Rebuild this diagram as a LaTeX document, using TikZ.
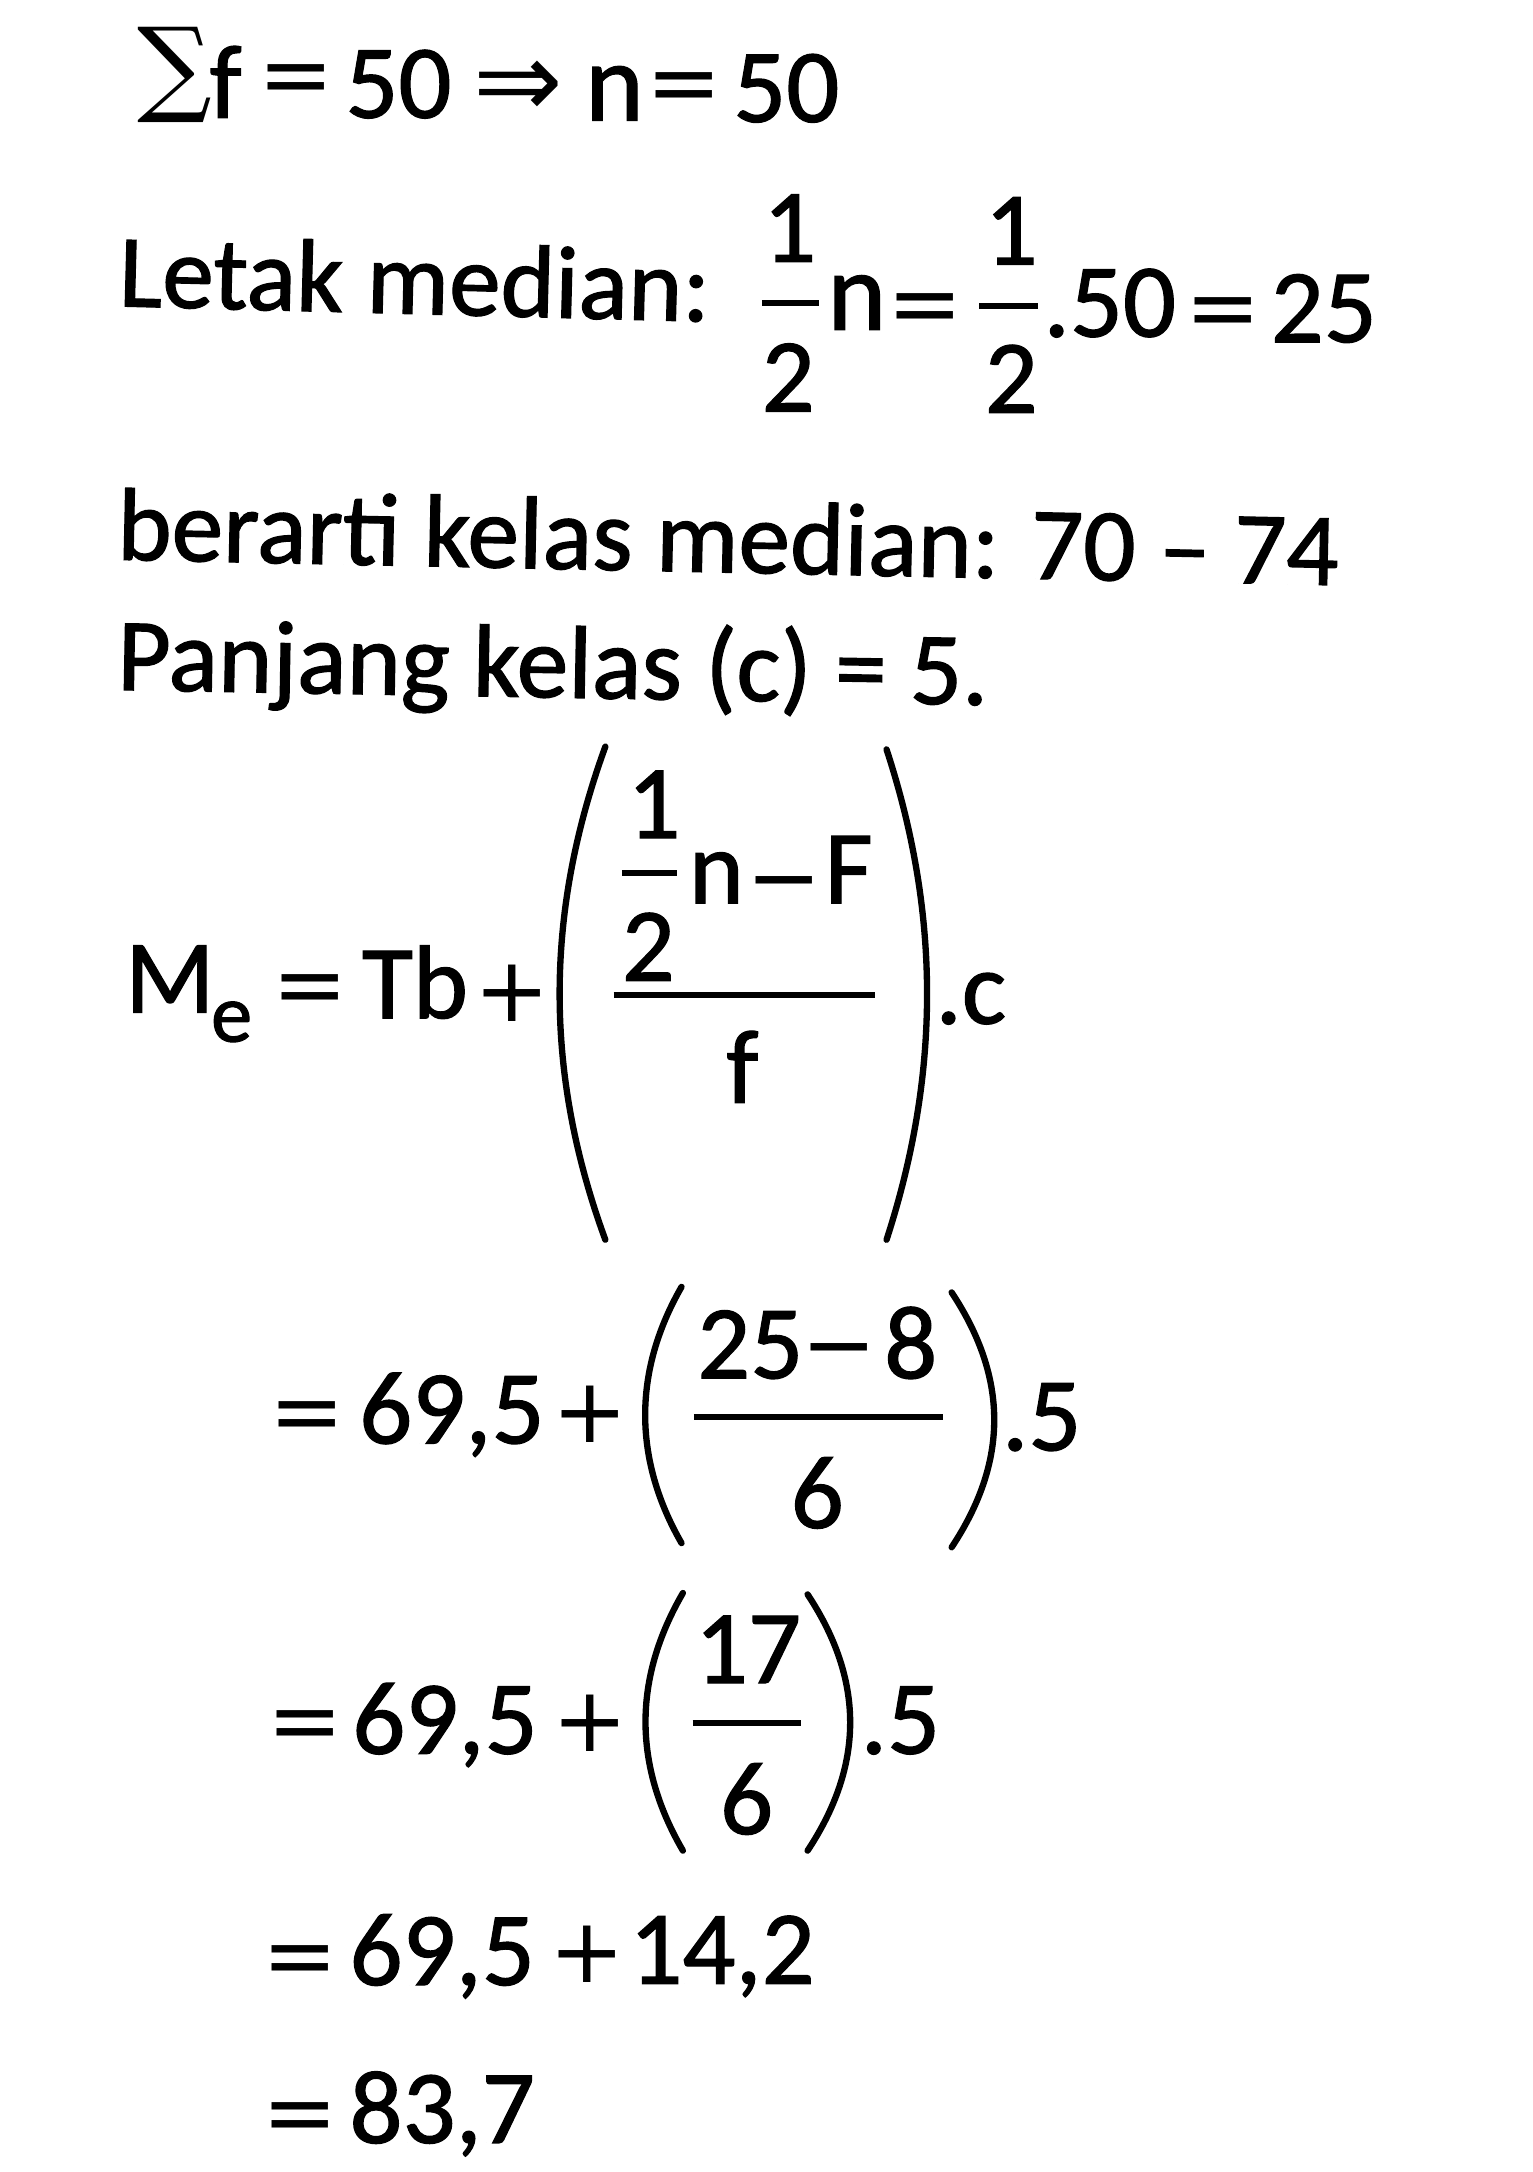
\documentclass[tikz,border=0pt]{standalone}
\usepackage{fontspec}
\setmainfont{Carlito}[FakeBold=1.2]
\newfontfamily\opfont{DejaVu Sans}
\newfontfamily\sumfont{DejaVu Serif}
\tikzset{
  txt/.style={anchor=base west, inner sep=0pt, font=\fontsize{42.5}{48}\selectfont},
  num/.style={anchor=base west, inner sep=0pt, font=\fontsize{43}{48}\selectfont},
  numc/.style={anchor=base, inner sep=0pt, font=\fontsize{43}{48}\selectfont},
  big/.style={anchor=base west, inner sep=0pt, font=\fontsize{46}{50}\selectfont},
  sub/.style={anchor=base west, inner sep=0pt, font=\fontsize{34}{38}\selectfont},
  op/.style={anchor=base, inner sep=0pt, yshift=-11.5pt, font=\opfont\fontsize{37}{40}\selectfont},
  arr/.style={anchor=base, inner sep=0pt, yshift=-13.5pt, font=\opfont\fontsize{44}{48}\selectfont},
  bar/.style={line width=2.4pt},
  paren/.style={line width=2.6pt, line cap=round}
}
\begin{document}
\begin{tikzpicture}[x=0.02cm, y=-0.02cm]
\useasboundingbox (0,0) rectangle (1106,1568);

% sum of frequencies
\node[anchor=base west, inner sep=0pt, font=\sumfont\fontsize{43}{48}\selectfont] (sig) at (99,74) {∑};
\node[num] (fa) at (151,85) {f};
\node[op] (eqa) at (214,56) {=};
\node[num] (fifty) at (249,85) {50};
\node[arr] (impl) at (374,61) {⇒};
\node[big] (na) at (422,87) {n};
\node[op] (eqb) at (494,62) {=};
\node[num] (nfifty) at (529,88) {50};

% position of the median
\node[txt, rotate=-1.5] (letak) at (85,221) {Letak median:};
\node[numc] (onea) at (570,189) {1};
\draw[bar] (550,219) -- (591,219);
\node[numc] (twoa) at (569,297) {2};
\node[big] (nb) at (597,238) {n};
\node[op] (eqc) at (668,221) {=};
\node[numc] (oneb) at (730,191) {1};
\draw[bar] (707,221) -- (749,221);
\node[numc] (twob) at (730,298) {2};
\node[num] (dotfifty) at (753,243) {.50};
\node[op] (eqd) at (883,224) {=};
\node[num] (tfive) at (917,247) {25};

\node[txt, rotate=-1.2] (kelas) at (84,404) {berarti kelas median: 70 – 74};
\node[txt, rotate=-1.0] (panjang) at (84,498) {Panjang kelas (c) = 5.};

% median formula
\node[num] (me) at (90,731) {M};
\node[sub] (mesub) at (152,752) {e};
\node[op] (eqe) at (224,713) {=};
\node[num] (tb) at (261,735) {Tb};
\node[op] (plusa) at (370,717) {+};
\draw[paren] (437,539) .. controls (393,660) and (393,775) .. (437,895);
\node[numc] (onec) at (472,605) {1};
\draw[bar] (449,630) -- (489,630);
\node[num] (nc) at (497,652) {n};
\node[op] (mina) at (566,636) {−};
\node[num] (bigf) at (595,652) {F};
\node[numc] (twoc) at (468,708) {2};
\draw[bar] (443,718) -- (632,718);
\node[numc] (ff) at (536,796) {f};
\draw[paren] (640,541) .. controls (679,660) and (679,775) .. (640,895);
\node[num] (dotc) at (675,739) {.c};

% first substitution
\node[op] (eqf) at (222,1021) {=};
\node[num] (tba) at (259,1042) {69,5};
\node[op] (plusb) at (426,1021) {+};
\draw[paren] (492,929) .. controls (457,990) and (457,1053) .. (492,1114);
\node[num] (tfa) at (503,995) {25};
\node[op] (minb) at (606,973) {−};
\node[num] (eight) at (638,995) {8};
\draw[bar] (501,1023) -- (681,1023);
\node[numc] (sixa) at (590,1103) {6};
\draw[paren] (687,933) .. controls (728,995) and (728,1055) .. (687,1117);
\node[num] (fivea) at (723,1047) {.5};

% second substitution
\node[op] (eqg) at (220,1244) {=};
\node[num] (tbb) at (254,1266) {69,5};
\node[op] (plusc) at (426,1244) {+};
\draw[paren] (493,1150) .. controls (457,1212) and (457,1274) .. (493,1336);
\node[numc] (sevt) at (540,1215) {17};
\draw[bar] (500,1244) -- (578,1244);
\node[numc] (sixb) at (539,1324) {6};
\draw[paren] (583,1151) .. controls (624,1213) and (624,1274) .. (583,1336);
\node[num] (fiveb) at (621,1266) {.5};

% result
\node[op] (eqh) at (217,1414) {=};
\node[num] (tbc) at (252,1433) {69,5};
\node[op] (plusd) at (424,1411) {+};
\node[num] (fourt) at (454,1432) {14,2};
\node[op] (eqi) at (217,1527) {=};
\node[num] (res) at (252,1547) {83,7};
\end{tikzpicture}
\end{document}
